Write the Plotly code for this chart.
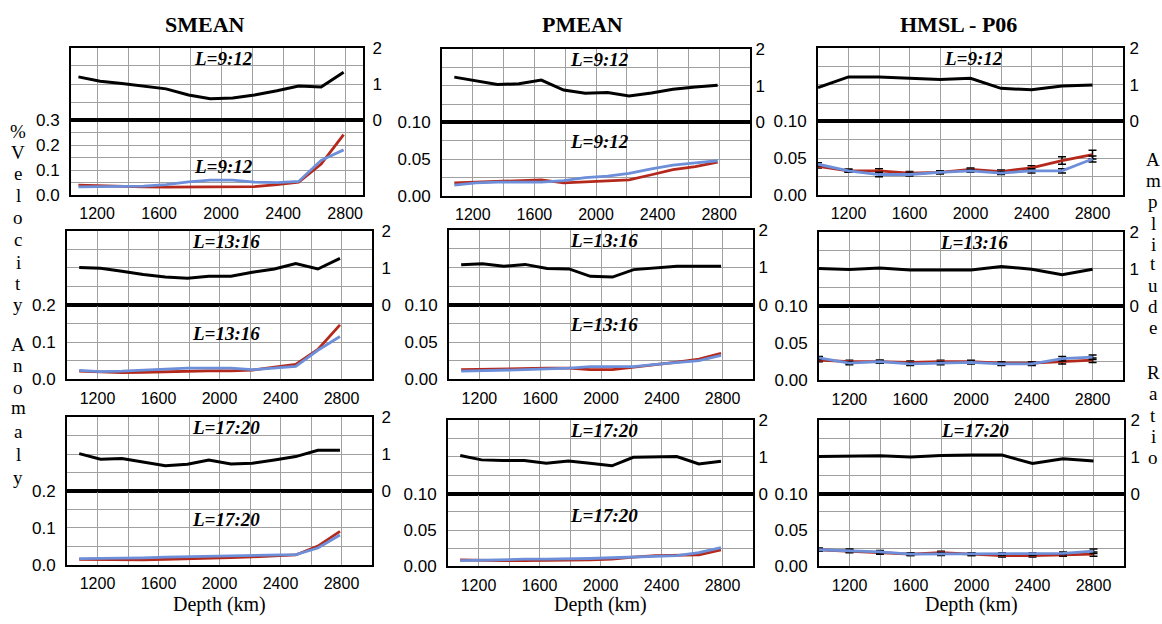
import plotly.graph_objects as go

# ---------------- data ----------------
depth_smooth = [1080, 1220, 1360, 1500, 1645, 1790, 1930, 2075, 2215, 2360, 2500, 2645, 2790]
depth_hmsl = [1000, 1200, 1400, 1600, 1800, 2000, 2200, 2400, 2600, 2800]

col_titles = ["SMEAN", "PMEAN", "HMSL - P06"]
row_labels = ["L=9:12", "L=13:16", "L=17:20"]

# amplitude ratio (black, upper panels)
ratio_smean = [
    [1.20, 1.08, 1.02, 0.95, 0.87, 0.70, 0.60, 0.62, 0.70, 0.82, 0.95, 0.92, 1.33],
    [1.01, 0.99, 0.91, 0.82, 0.75, 0.72, 0.77, 0.77, 0.88, 0.97, 1.12, 0.97, 1.26],
    [1.01, 0.86, 0.88, 0.79, 0.68, 0.72, 0.84, 0.73, 0.75, 0.84, 0.93, 1.10, 1.10],
]
ratio_pmean = [
    [1.23, 1.12, 1.03, 1.05, 1.15, 0.88, 0.79, 0.81, 0.72, 0.80, 0.90, 0.96, 1.01],
    [1.07, 1.10, 1.03, 1.08, 0.97, 0.96, 0.76, 0.74, 0.94, 0.98, 1.03, 1.03, 1.03],
    [1.04, 0.92, 0.90, 0.90, 0.83, 0.89, 0.83, 0.76, 0.99, 1.01, 1.01, 0.81, 0.88],
]
ratio_hmsl = [
    [0.92, 1.21, 1.21, 1.17, 1.14, 1.17, 0.90, 0.86, 0.96, 0.99],
    [1.01, 0.98, 1.02, 0.97, 0.97, 0.97, 1.06, 0.99, 0.84, 0.99],
    [1.01, 1.01, 1.03, 1.00, 1.04, 1.05, 1.05, 0.82, 0.95, 0.89],
]

# % velocity anomaly (red / blue, lower panels)
red_smean = [
    [0.040, 0.037, 0.033, 0.033, 0.032, 0.032, 0.032, 0.033, 0.034, 0.042, 0.052, 0.125, 0.243],
    [0.022, 0.020, 0.018, 0.019, 0.021, 0.022, 0.023, 0.023, 0.025, 0.033, 0.040, 0.080, 0.146],
    [0.014, 0.013, 0.013, 0.013, 0.014, 0.015, 0.017, 0.019, 0.021, 0.023, 0.026, 0.050, 0.090],
]
blue_smean = [
    [0.033, 0.034, 0.033, 0.036, 0.042, 0.053, 0.060, 0.060, 0.052, 0.050, 0.055, 0.140, 0.182],
    [0.024, 0.021, 0.022, 0.025, 0.028, 0.030, 0.030, 0.030, 0.026, 0.030, 0.035, 0.078, 0.115],
    [0.016, 0.016, 0.017, 0.018, 0.020, 0.021, 0.022, 0.024, 0.025, 0.026, 0.027, 0.045, 0.080],
]
red_pmean = [
    [0.018, 0.019, 0.020, 0.021, 0.022, 0.018, 0.019, 0.020, 0.022, 0.029, 0.036, 0.040, 0.046],
    [0.013, 0.0135, 0.014, 0.015, 0.015, 0.015, 0.013, 0.013, 0.016, 0.020, 0.023, 0.027, 0.035],
    [0.009, 0.008, 0.008, 0.008, 0.008, 0.009, 0.009, 0.010, 0.013, 0.015, 0.015, 0.016, 0.023],
]
blue_pmean = [
    [0.015, 0.018, 0.019, 0.019, 0.019, 0.021, 0.025, 0.027, 0.031, 0.037, 0.042, 0.045, 0.048],
    [0.011, 0.012, 0.013, 0.013, 0.014, 0.015, 0.017, 0.017, 0.017, 0.020, 0.022, 0.025, 0.032],
    [0.008, 0.009, 0.010, 0.010, 0.010, 0.010, 0.011, 0.012, 0.013, 0.014, 0.015, 0.019, 0.026],
]
red_hmsl = [
    [0.039, 0.033, 0.033, 0.030, 0.031, 0.035, 0.032, 0.037, 0.047, 0.055],
    [0.027, 0.025, 0.025, 0.024, 0.025, 0.025, 0.023, 0.023, 0.025, 0.027],
    [0.023, 0.021, 0.019, 0.017, 0.019, 0.017, 0.015, 0.015, 0.016, 0.017],
]
blue_hmsl = [
    [0.042, 0.033, 0.028, 0.028, 0.031, 0.033, 0.030, 0.033, 0.033, 0.049],
    [0.030, 0.023, 0.025, 0.022, 0.023, 0.024, 0.022, 0.022, 0.029, 0.031],
    [0.023, 0.022, 0.020, 0.017, 0.017, 0.017, 0.017, 0.017, 0.018, 0.021],
]
err_red_hmsl = [
    [0.002, 0.002, 0.003, 0.002, 0.002, 0.002, 0.002, 0.003, 0.005, 0.006],
    [0.002, 0.002, 0.002, 0.002, 0.002, 0.002, 0.002, 0.002, 0.003, 0.003],
    [0.002, 0.002, 0.002, 0.002, 0.002, 0.002, 0.002, 0.002, 0.002, 0.003],
]
err_blue_hmsl = [
    [0.002, 0.002, 0.003, 0.002, 0.002, 0.002, 0.002, 0.003, 0.003, 0.004],
    [0.002, 0.002, 0.002, 0.002, 0.002, 0.002, 0.002, 0.002, 0.003, 0.003],
    [0.002, 0.002, 0.002, 0.002, 0.002, 0.002, 0.002, 0.002, 0.002, 0.003],
]

ratio_ticks = [0, 0.5, 1, 1.5, 2]
ratio_ticktext = ["0", "", "1", "", "2"]
depth_ticks = [1200, 1400, 1600, 1800, 2000, 2200, 2400, 2600, 2800]
depth_ticktext = ["1200", "", "1600", "", "2000", "", "2400", "", "2800"]

# lower-panel y scales: per (row, col)
anom_ticks = {
    (0, 0): ([0, 0.05, 0.1, 0.15, 0.2, 0.25, 0.3], ["0.0", "", "0.1", "", "0.2", "", "0.3"]),
    (1, 0): ([0, 0.05, 0.1, 0.15, 0.2], ["0.0", "", "0.1", "", "0.2"]),
    (2, 0): ([0, 0.05, 0.1, 0.15, 0.2], ["0.0", "", "0.1", "", "0.2"]),
}
for r in range(3):
    for c in (1, 2):
        anom_ticks[(r, c)] = ([0, 0.025, 0.05, 0.075, 0.1], ["0.00", "", "0.05", "", "0.10"])

# ---------------- layout geometry (pixels) ----------------
W, H = 1162, 624
# (x0, x1, ytop, ydiv, ybot)
boxes = {
    (0, 0): (71, 363, 40, 115, 192),
    (0, 1): (442, 750, 41, 117, 193),
    (0, 2): (818, 1123, 40, 116, 192),
    (1, 0): (67, 372, 229, 305, 382),
    (1, 1): (449, 753, 228, 305, 382),
    (1, 2): (819, 1123, 230, 306, 383),
    (2, 0): (67, 372, 421, 497, 573),
    (2, 1): (448, 753, 424, 500, 575),
    (2, 2): (819, 1124, 424, 500, 575),
}
xranges = {(0, 0): [1032, 2915]}
right_ticklen = {0: 4, 1: 0, 2: 1}

RED = "#b5291c"
BLUE = "#6d8fd9"
GRID = "#a0a0a0"
TICKFONT = dict(family="Liberation Sans, Arial", size=16, color="black")
YTICKFONT = dict(family="Liberation Sans, Arial", size=17, color="black")
SERIF = "Liberation Serif, Times New Roman"

fig = go.Figure()
layout = dict(
    width=W, height=H, margin=dict(l=0, r=0, t=0, b=0),
    paper_bgcolor="white", plot_bgcolor="white", showlegend=False,
)
annotations = []
shapes = []

def px(x):
    return x / W

def py(y):
    return 1 - y / H

def axname(k):
    return "" if k == 1 else str(k)

data_sets = {
    0: (depth_smooth, ratio_smean, red_smean, blue_smean, None, None),
    1: (depth_smooth, ratio_pmean, red_pmean, blue_pmean, None, None),
    2: (depth_hmsl, ratio_hmsl, red_hmsl, blue_hmsl, err_red_hmsl, err_blue_hmsl),
}

k = 1
for r in range(3):
    for c in range(3):
        x0, x1, yt, yd, yb = boxes[(r, c)]
        xs, ratio, red, blue, er, eb = data_sets[c]
        ku, kl = k, k + 1
        k += 2
        common_x = dict(
            domain=[px(x0), px(x1)], range=xranges.get((r, c), [1000, 3000]), tickvals=depth_ticks,
            showgrid=True, gridcolor=GRID, gridwidth=1, zeroline=False,
            showline=True, linecolor="black", linewidth=2, mirror=True,
            ticks="outside", ticklen=3, tickcolor="rgba(0,0,0,0)", tickfont=TICKFONT,
        )
        layout["xaxis" + axname(ku)] = dict(common_x, anchor="y" + axname(ku), showticklabels=False)
        layout["xaxis" + axname(kl)] = dict(common_x, anchor="y" + axname(kl), ticktext=depth_ticktext)
        rtl = right_ticklen[c]
        layout["yaxis" + axname(ku)] = dict(
            domain=[py(yd), py(yt)], range=[0, 2], anchor="x" + axname(ku), side="right",
            tickvals=ratio_ticks, ticktext=ratio_ticktext,
            showgrid=True, gridcolor=GRID, gridwidth=1, zeroline=False,
            showline=True, linecolor="black", linewidth=2, mirror=True,
            ticks="outside" if rtl else "", ticklen=max(rtl, 1), tickcolor="rgba(0,0,0,0)",
            tickfont=YTICKFONT,
        )
        tv, tt = anom_ticks[(r, c)]
        layout["yaxis" + axname(kl)] = dict(
            domain=[py(yb), py(yd)], range=[0, tv[-1]], anchor="x" + axname(kl), side="left",
            tickvals=tv, ticktext=tt,
            showgrid=True, gridcolor=GRID, gridwidth=1, zeroline=False,
            showline=True, linecolor="black", linewidth=2, mirror=True,
            ticks="outside", ticklen=6, tickcolor="rgba(0,0,0,0)", tickfont=YTICKFONT,
        )
        fig.add_trace(go.Scatter(
            x=xs, y=ratio[r], mode="lines", line=dict(color="black", width=3),
            xaxis="x" + axname(ku), yaxis="y" + axname(ku),
        ))
        ered = dict(type="data", array=er[r], color="black", thickness=1.5, width=4) if er else None
        eblue = dict(type="data", array=eb[r], color="black", thickness=1.5, width=4) if eb else None
        fig.add_trace(go.Scatter(
            x=xs, y=red[r], mode="lines", line=dict(color=RED, width=2.8),
            error_y=ered, xaxis="x" + axname(kl), yaxis="y" + axname(kl),
        ))
        fig.add_trace(go.Scatter(
            x=xs, y=blue[r], mode="lines", line=dict(color=BLUE, width=2.8),
            error_y=eblue, xaxis="x" + axname(kl), yaxis="y" + axname(kl),
        ))
        # divider line thicker
        shapes.append(dict(
            type="line", xref="paper", yref="paper", x0=px(x0), x1=px(x1), y0=py(yd), y1=py(yd),
            line=dict(color="black", width=3),
        ))
        # panel labels
        lab_font = dict(family=SERIF, size=19, color="black", weight="bold", style="italic")
        annotations.append(dict(
            text=row_labels[r], xref="x" + axname(ku) + " domain", yref="y" + axname(ku) + " domain",
            x=0.5 + (6 if c == 0 else 3) / (x1 - x0), y=1 - 11 / (yd - yt), showarrow=False,
            font=lab_font, xanchor="center", yanchor="middle",
        ))
        if c < 2:
            lower_lab_y = {(0, 0): 162, (0, 1): 137, (1, 0): 335, (1, 1): 325, (2, 0): 527, (2, 1): 522}[(r, c)]
            annotations.append(dict(
                text=row_labels[r], xref="x" + axname(kl) + " domain", yref="paper",
                x=0.5 + (6 if c == 0 else 3) / (x1 - x0), y=py(lower_lab_y), showarrow=False,
                font=lab_font, xanchor="center", yanchor="middle",
            ))

# column titles and depth labels
title_x = [205, 582, 958]
for c in range(3):
    annotations.append(dict(
        text=col_titles[c], xref="paper", yref="paper", x=px(title_x[c]), y=py(16),
        showarrow=False, font=dict(family=SERIF, size=22, color="black", weight="bold"),
        xanchor="center", yanchor="middle",
    ))
    x0, x1 = boxes[(2, c)][0], boxes[(2, c)][1]
    annotations.append(dict(
        text="Depth (km)", xref="paper", yref="paper", x=px((x0 + x1) / 2), y=0,
        showarrow=False, font=dict(family=SERIF, size=20, color="black"),
        xanchor="center", yanchor="bottom", yshift=-4,
    ))

# stacked vertical axis titles
left_letters = list("%Velocity") + list("Anomaly")
left_y = [126, 148, 170, 192, 215, 238, 261, 283, 305, 346, 368, 390, 411, 436, 460, 483]
for ch, yy in zip(left_letters, left_y):
    annotations.append(dict(text=ch, xref="paper", yref="paper", x=px(18), y=py(yy),
                            showarrow=False, font=dict(family=SERIF, size=19, color="black"),
                            xanchor="center", yanchor="middle", borderpad=0))
right_letters = list("Amplitude") + list("Ratio")
right_y = [155, 177, 199, 221, 243, 263, 285, 307, 329, 375, 397, 419, 441, 463]
for ch, yy in zip(right_letters, right_y):
    annotations.append(dict(text=ch, xref="paper", yref="paper", x=px(1153), y=py(yy),
                            showarrow=False, font=dict(family=SERIF, size=19, color="black"),
                            xanchor="center", yanchor="middle", borderpad=0))

layout["annotations"] = annotations
layout["shapes"] = shapes
fig.update_layout(**layout)
fig.write_html("out.html")
